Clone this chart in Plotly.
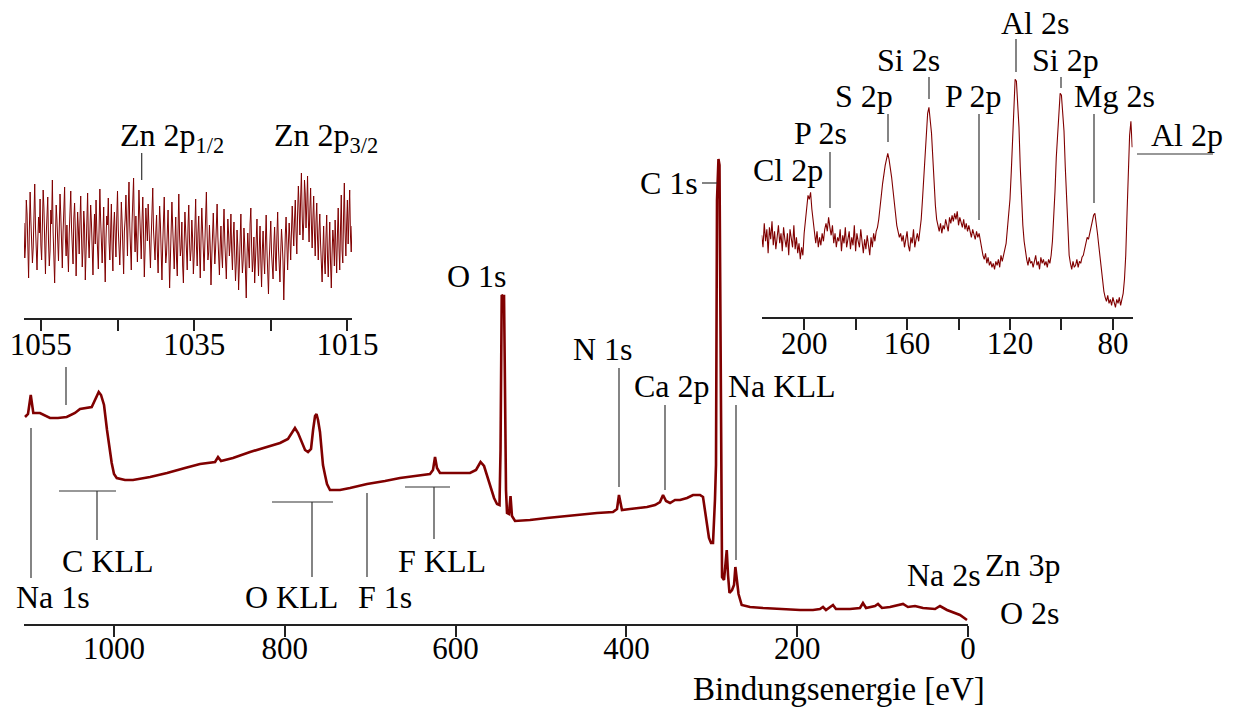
import plotly.graph_objects as go

# ---------------- data ----------------
# Survey spectrum (binding energy in eV, intensity in arbitrary units)
survey_ev = [1104.2, 1100.7, 1097.5, 1094.5, 1086.7, 1075.0, 1065.6, 1055.4, 1045.7, 1039.8,
             1026.1, 1022.2, 1017.9, 1015.2, 1011.7, 1008.2, 1005.3, 1002.7, 1000.0, 996.8,
             987.1, 977.8, 957.8, 937.9, 916.9, 899.3, 881.7, 878.2, 874.7, 860.7,
             840.7, 820.8, 805.6, 796.3, 791.6, 788.1, 784.5, 780.2, 776.3, 772.8,
             769.3, 766.9, 764.6, 762.9, 761.1, 758.8, 757.0, 755.3, 752.9, 750.6,
             747.1, 735.4, 723.7, 703.7, 682.7, 665.1, 647.5, 630.0, 626.5, 624.1,
             621.8, 618.3, 600.7, 583.1, 576.1, 570.8, 566.7, 562.0, 558.5, 555.0,
             551.5, 548.6, 547.4, 546.6, 546.0, 544.5, 543.3, 542.5, 541.8, 541.0,
             539.8, 537.5, 535.7, 534.0, 530.4, 512.9, 493.0, 471.9, 454.3, 434.4,
             415.7, 411.0, 408.7, 406.9, 405.2, 395.8, 384.1, 375.9, 366.5, 360.7,
             357.1, 353.6, 348.9, 343.1, 337.2, 329.0, 322.0, 313.8, 310.3, 307.9,
             305.6, 303.3, 300.9, 298.6, 296.3, 295.1, 293.9, 292.2, 291.0, 289.8,
             288.9, 288.0, 285.7, 283.9, 282.5, 281.0, 279.3, 276.3, 274.0, 272.4,
             270.6, 268.7, 265.0, 255.3, 240.0, 220.1, 196.7, 181.5, 173.3, 169.8,
             166.3, 158.1, 154.6, 138.2, 126.5, 123.0, 119.4, 108.9, 105.4, 100.7,
             91.3, 76.1, 70.3, 62.1, 52.7, 38.6, 32.8, 24.6, 17.6, 9.4, 1.2]
survey_counts = [207, 210, 229, 211, 211, 206, 206, 207, 211, 215,
                 217, 224, 232, 229, 219, 194, 176, 161, 150, 146,
                 144, 144, 147, 151, 156, 160, 162, 167, 163, 166,
                 172, 177, 181, 185, 191, 196, 191, 181, 174, 172,
                 175, 194, 208, 210, 204, 192, 174, 159, 149, 140,
                 134, 134, 136, 140, 143, 146, 148, 150, 154, 167,
                 156, 151, 151, 151, 154, 162, 158, 146, 136, 126,
                 120, 119, 174, 294, 329, 328, 328, 264, 174, 134,
                 111, 110, 128, 108, 103, 104, 106, 108, 109, 111,
                 112, 115, 129, 119, 114, 115, 116, 117, 119, 122,
                 129, 123, 121, 124, 124, 126, 129, 129, 127, 112,
                 97, 86, 81, 81, 124, 159, 424, 465, 459, 274,
                 124, 47, 44, 59, 74, 49, 31, 34, 39, 57,
                 44, 30, 19, 17, 16, 15, 14, 14, 15, 17,
                 14, 19, 15, 15, 16, 21, 16, 18, 20, 16,
                 17, 20, 17, 18, 16, 15, 18, 14, 12, 9, 4]

# Zn 2p detail region (left inset): start energy, step, intensities
zn_start_ev = 1057.2
zn_step_ev = 0.1
zn_counts = [
    95, 60, 72, 118, 104, 66, 40, 88, 126, 97, 81, 55, 70, 112, 134, 90, 63, 48, 77, 101,
    85, 119, 73, 58, 92, 128, 110, 69, 44, 83, 99, 121, 76, 52, 67, 108, 94, 138, 86, 61,
    35, 79, 113, 98, 72, 57, 89, 124, 103, 64, 50, 86, 117, 131, 80, 62, 93, 71, 46, 84,
    109, 127, 91, 68, 54, 99, 115, 87, 42, 75, 106, 88,
    64, 96, 122, 83, 51, 70, 107, 92, 38, 66, 101, 125, 79, 60, 86, 113, 95, 57, 43, 81,
    104, 74, 118, 88, 62, 49, 90, 129, 98, 72, 55, 84, 111, 67, 36, 80, 102, 93, 120, 76,
    58, 85, 114, 69, 47, 91, 106, 82, 61, 100, 127, 89, 65, 53, 78, 116, 97, 71, 44, 87,
    99, 123, 84, 62, 108, 136, 92, 70, 48, 95, 117, 140, 86, 66, 102, 79, 56, 90, 128, 104,
    74, 59, 97, 121, 83, 41, 68, 110, 93, 77, 114, 87, 63, 50, 81, 105, 130, 88, 72, 58,
    86, 103, 67, 45, 80, 112, 94, 60, 38, 73, 99, 121, 78, 55, 64, 90, 108, 71, 30, 58,
    84, 116, 92, 66, 49, 77, 101, 59, 42, 88, 124, 83, 62, 70, 96, 53, 35, 74, 106, 87,
    65, 48, 91, 113, 76, 57, 68, 98, 80, 44, 61, 95, 119, 72, 52, 85, 102, 69, 40, 79,
    110, 89, 63, 47, 75, 100, 126, 82, 58, 66, 93, 71, 33, 60, 87, 105, 78, 54, 69, 97,
    114, 81, 56, 43, 73, 92, 64, 50, 86, 109, 77, 59, 39, 70, 99, 84, 62, 75, 104, 67,
    48, 80, 96, 63, 37, 55, 88, 71, 28, 52, 79, 104, 66, 45, 58, 90, 74, 41, 20, 61,
    85, 67, 50, 94, 110, 72, 46, 59, 81, 35, 54, 77, 99, 64, 42, 70, 92, 57, 31, 68,
    87, 60, 44, 76, 103, 69, 49, 24, 58, 83, 97, 65, 51, 39, 73, 91, 62, 47, 82, 106,
    71, 53, 36, 66, 89, 75, 56, 18, 60, 84, 101, 68, 48, 74, 95, 79, 58, 86, 112, 90,
    72, 98, 118, 86, 64, 104, 132, 110, 83, 120, 145, 102, 78, 95, 138, 124, 90, 113, 142, 99,
    76, 108, 130, 94, 70, 100, 122, 85, 62, 96, 115, 80, 58, 88, 104,
    74, 50, 36, 66, 92, 58, 44, 80, 103, 62, 41, 70, 96, 55, 30, 64, 88, 76, 52, 98,
    60, 45, 84, 110, 71, 48, 90, 123, 68, 55, 102, 135, 86, 62, 94, 118, 74, 100, 128, 82,
    66, 92]

# Low binding energy detail region (right inset)
low_start_ev = 216.5
low_step_ev = 0.5
low_counts = [82, 70, 94, 76, 88, 64, 90, 78, 96, 72,
              86, 68, 80, 92, 74, 84, 66, 90, 78, 70,
              84, 62, 88, 76, 70, 92, 68, 80, 64, 74,
              58, 70, 62, 84, 98, 112, 122, 118, 125, 108,
              96, 82, 74, 86, 70, 80, 72, 84, 76, 88,
              94, 86, 100, 90, 82, 92, 74, 84, 70, 80,
              76, 88, 66, 82, 74, 90, 70, 78, 86, 68,
              80, 72, 92, 66, 84, 76, 70, 88, 74, 64,
              78, 68, 82, 74, 62, 80, 70, 84, 76, 86,
              90, 98, 108, 122, 134, 146, 152, 158, 164, 158,
              150, 140, 128, 112, 104, 92, 86, 80, 84, 76,
              82, 70, 78, 86, 72, 66, 80, 74, 88, 70,
              78, 84, 76, 88, 98, 118, 140, 160, 182, 204,
              210, 198, 184, 160, 132, 112, 98, 92, 86, 94,
              84, 92, 88, 98, 90, 86, 100, 94, 102, 96,
              104, 98, 106, 92, 100, 96, 90, 98, 88, 94,
              86, 92, 84, 80, 88, 82, 78, 86, 80, 84,
              76, 70, 62, 58, 64, 54, 60, 52, 56, 50,
              54, 48, 56, 52, 58, 50, 62, 56, 64, 68,
              74, 88, 100, 118, 145, 180, 212, 238, 236, 218,
              190, 150, 118, 92, 76, 64, 58, 52, 60, 54,
              56, 50, 58, 62, 52, 56, 48, 60, 54, 58,
              52, 56, 50, 58, 54, 62, 76, 96, 126, 160,
              186, 208, 224, 222, 206, 186, 150, 114, 84, 62,
              54, 48, 56, 50, 52, 58, 50, 56, 54, 60,
              62, 68, 72, 80, 78, 86, 90, 96, 102, 104,
              96, 84, 72, 60, 46, 34, 26, 20, 16, 22,
              14, 18, 12, 20, 16, 10, 18, 14, 20, 12,
              18, 24, 38, 62, 104, 150, 182, 196, 170]

main_ticks = [1000, 800, 600, 400, 200, 0]
zn_ticks = [1055, 1035, 1015]
zn_minor_ticks = [1045, 1025]
low_ticks = [200, 160, 120, 80]
low_minor_ticks = [180, 140, 100]

zn_ev = [round(zn_start_ev - zn_step_ev * i, 2) for i in range(len(zn_counts))]
low_ev = [round(low_start_ev - low_step_ev * i, 2) for i in range(len(low_counts))]

# ---------------- layout helpers ----------------
W, H = 1241, 709
def px(x):
    return x / W
def py(y):
    return 1 - y / H

RED = "#800000"
FONT = "Liberation Serif"
LINEC = "#333333"

fig = go.Figure()
fig.add_trace(go.Scatter(x=survey_ev, y=survey_counts, mode="lines",
                         line=dict(color=RED, width=2.6), xaxis="x", yaxis="y"))
fig.add_trace(go.Scatter(x=zn_ev, y=zn_counts, mode="lines",
                         line=dict(color=RED, width=1.0), xaxis="x2", yaxis="y2"))
fig.add_trace(go.Scatter(x=low_ev, y=low_counts, mode="lines",
                         line=dict(color=RED, width=1.1), xaxis="x3", yaxis="y3"))

def axis_style(standoff):
    return dict(showgrid=False, zeroline=False, showline=True, linecolor="#222",
                linewidth=1.5, ticks="outside", ticklen=11, tickwidth=1.5,
                tickcolor="#222", automargin=False, ticklabelstandoff=standoff,
                tickfont=dict(family=FONT, size=31, color="black"))

minor_style = dict(ticks="outside", ticklen=11, tickwidth=1.5, tickcolor="#222")

fig.update_layout(
    width=W, height=H, margin=dict(l=0, r=0, t=0, b=0, autoexpand=False),
    paper_bgcolor="white", plot_bgcolor="rgba(0,0,0,0)", showlegend=False,
    xaxis=dict(domain=[px(24), px(968)], range=[1105.4, 0], anchor="y",
               tickvals=main_ticks, **axis_style(-15)),
    yaxis=dict(domain=[py(624), py(150)], range=[0, 474], visible=False, anchor="x",
               automargin=False),
    xaxis2=dict(domain=[px(24), px(352)], range=[1057.2, 1014.4], anchor="y2",
                tickvals=zn_ticks, minor=dict(tickvals=zn_minor_ticks, **minor_style),
                **axis_style(-13)),
    yaxis2=dict(domain=[py(318), py(170)], range=[0, 148], visible=False, anchor="x2",
                automargin=False),
    xaxis3=dict(domain=[px(761.7), px(1132.7)], range=[216.5, 72.3], anchor="y3",
                tickvals=low_ticks, minor=dict(tickvals=low_minor_ticks, **minor_style),
                **axis_style(-13)),
    yaxis3=dict(domain=[py(317.3), py(60)], range=[0, 257.3], visible=False, anchor="x3",
                automargin=False),
)

# labels: (text, x_center_px, y_center_px)
labels = [
    ("Na 1s", 53, 597), ("C KLL", 108, 561), ("O KLL", 291, 597), ("F 1s", 385, 597),
    ("F KLL", 442, 561), ("O 1s", 477, 276), ("N 1s", 603, 349), ("Ca 2p", 672, 386),
    ("Na KLL", 782, 386), ("C 1s", 669, 183), ("Na 2s", 944, 575), ("Zn 3p", 1023, 565),
    ("O 2s", 1030, 613),
    ("Al 2s", 1035, 23), ("Si 2s", 908, 60), ("Si 2p", 1065, 60), ("S 2p", 864, 96),
    ("P 2p", 973, 96), ("Mg 2s", 1114, 96), ("P 2s", 820, 133), ("Cl 2p", 788, 170),
    ("Al 2p", 1187, 135),
    ("Zn 2p<sub>1/2</sub>", 172, 137), ("Zn 2p<sub>3/2</sub>", 326, 137),
]
for text, xc, yc in labels:
    fig.add_annotation(text=text, x=px(xc), y=py(yc), xref="paper", yref="paper",
                       xanchor="center", yanchor="middle", showarrow=False,
                       font=dict(family=FONT, size=32, color="black"))

fig.add_annotation(text="Bindungsenergie [eV]", x=px(986), y=py(708), xref="paper", yref="paper",
                   xanchor="right", yanchor="bottom", showarrow=False, borderpad=0,
                   font=dict(family=FONT, size=33, color="black"))

# marker lines: (x0, y0, x1, y1) in pixels
marker_lines = [
    (31, 428, 31, 578),                      # Na 1s
    (59, 491, 116, 491), (97, 491, 97, 540),  # C KLL
    (272, 502, 333, 502), (312, 502, 312, 577),  # O KLL
    (367, 493, 367, 577),                    # F 1s
    (405, 487, 450, 487), (434, 487, 434, 539),  # F KLL
    (619, 368, 619, 487),                    # N 1s
    (665, 405, 665, 490),                    # Ca 2p
    (736, 405, 736, 560),                    # Na KLL
    (702, 183, 717, 183),                    # C 1s
    (66, 367, 66, 405),                      # inset link
    (141.7, 153, 141.7, 180),                # Zn 2p1/2
    (1016, 39, 1016, 72),                    # Al 2s
    (929, 77, 929, 99),                      # Si 2s
    (1061, 77, 1061, 88),                    # Si 2p
    (888, 114, 888, 142),                    # S 2p
    (979, 114, 979, 220),                    # P 2p
    (1094, 114, 1094, 203),                  # Mg 2s
    (830, 152, 830, 208),                    # P 2s
    (1137, 154, 1213, 154),                  # Al 2p
]
for x0, y0, x1, y1 in marker_lines:
    fig.add_shape(type="line", xref="paper", yref="paper",
                  x0=px(x0), y0=py(y0), x1=px(x1), y1=py(y1),
                  line=dict(color=LINEC, width=1.2))

fig.write_html("out.html")
